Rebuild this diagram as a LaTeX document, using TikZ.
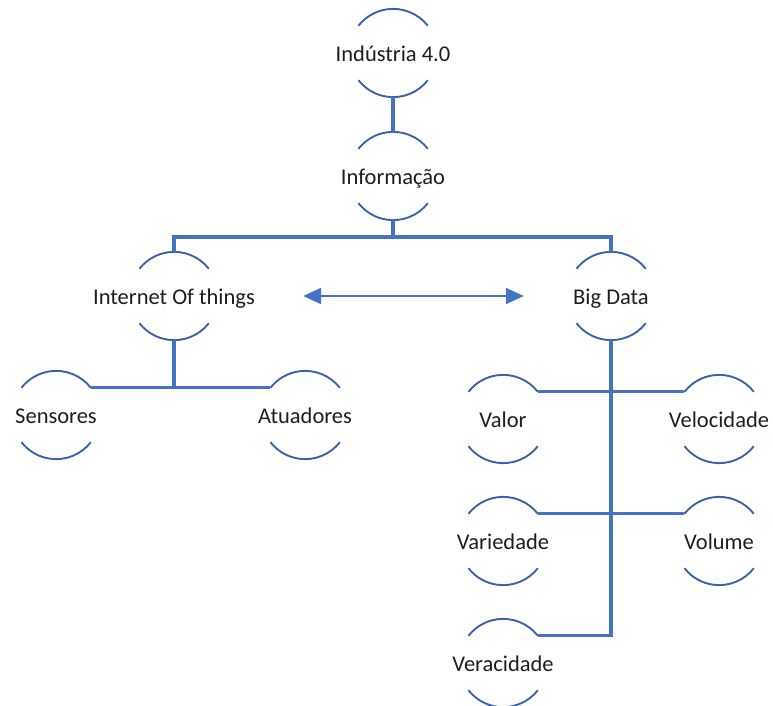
\documentclass[tikz,border=0pt]{standalone}
\usepackage{fontspec}
\setmainfont{Carlito}
\usetikzlibrary{arrows.meta}
\definecolor{linkblue}{RGB}{68,114,196}
\definecolor{arcblue}{RGB}{62,98,168}
\definecolor{txt}{RGB}{30,30,30}
\newcommand{\lbl}[1]{\raisebox{-8.6pt}[0pt][0pt]{\makebox[0pt]{#1}}}
\tikzset{
  hub/.style={circle, minimum size=88pt, inner sep=0pt, text=txt, font=\fontsize{22.5}{26}\selectfont},
  arcline/.style={draw=arcblue, line width=1.9pt},
  link/.style={draw=linkblue, line width=3.2pt},
  biarrow/.style={draw=linkblue, line width=2.2pt, {Triangle[length=18pt,width=16pt]}-{Triangle[length=18pt,width=16pt]}}
}
\begin{document}
\begin{tikzpicture}[x=1pt,y=-1pt]
\useasboundingbox (0,0) rectangle (773,706);
\node[hub] (ind) at (393,53) {\lbl{Indústria 4.0}};
\node[hub] (inf) at (393,176) {\lbl{Informação}};
\node[hub] (iot) at (174,296) {\lbl{Internet Of things}};
\node[hub] (big) at (611,296) {\lbl{Big Data}};
\node[hub] (sen) at (56,415) {\lbl{Sensores}};
\node[hub] (atu) at (305,415) {\lbl{Atuadores}};
\node[hub] (val) at (503,419) {\lbl{Valor}};
\node[hub] (vel) at (719,419) {\lbl{Velocidade}};
\node[hub] (var) at (503,541) {\lbl{Variedade}};
\node[hub] (vol) at (719,541) {\lbl{Volume}};
\node[hub] (ver) at (503,663) {\lbl{Veracidade}};
\foreach \n in {ind,inf,iot,big,sen,atu,val,vel,var,vol,ver}{
  \draw[arcline] (\n.38) arc[start angle=38, end angle=142, radius=44pt];
  \draw[arcline] (\n.-38) arc[start angle=-38, end angle=-142, radius=44pt];
}
\coordinate (j1) at (393,237);
\draw[link] (ind.south) -- (inf.north);
\draw[link] (inf.south) -- (j1);
\draw[link] (iot.north) |- (j1) -| (big.north);
\draw[link] (iot.south) -- (iot.south |- sen.38);
\draw[link] (sen.38) -- (atu.142);
\draw[link] (big.south) |- (ver.38);
\draw[link] (val.38) -- (vel.142);
\draw[link] (var.38) -- (vol.142);
\draw[biarrow] ([xshift=85pt]iot.east) -- ([xshift=-43pt]big.west);
\end{tikzpicture}
\end{document}
